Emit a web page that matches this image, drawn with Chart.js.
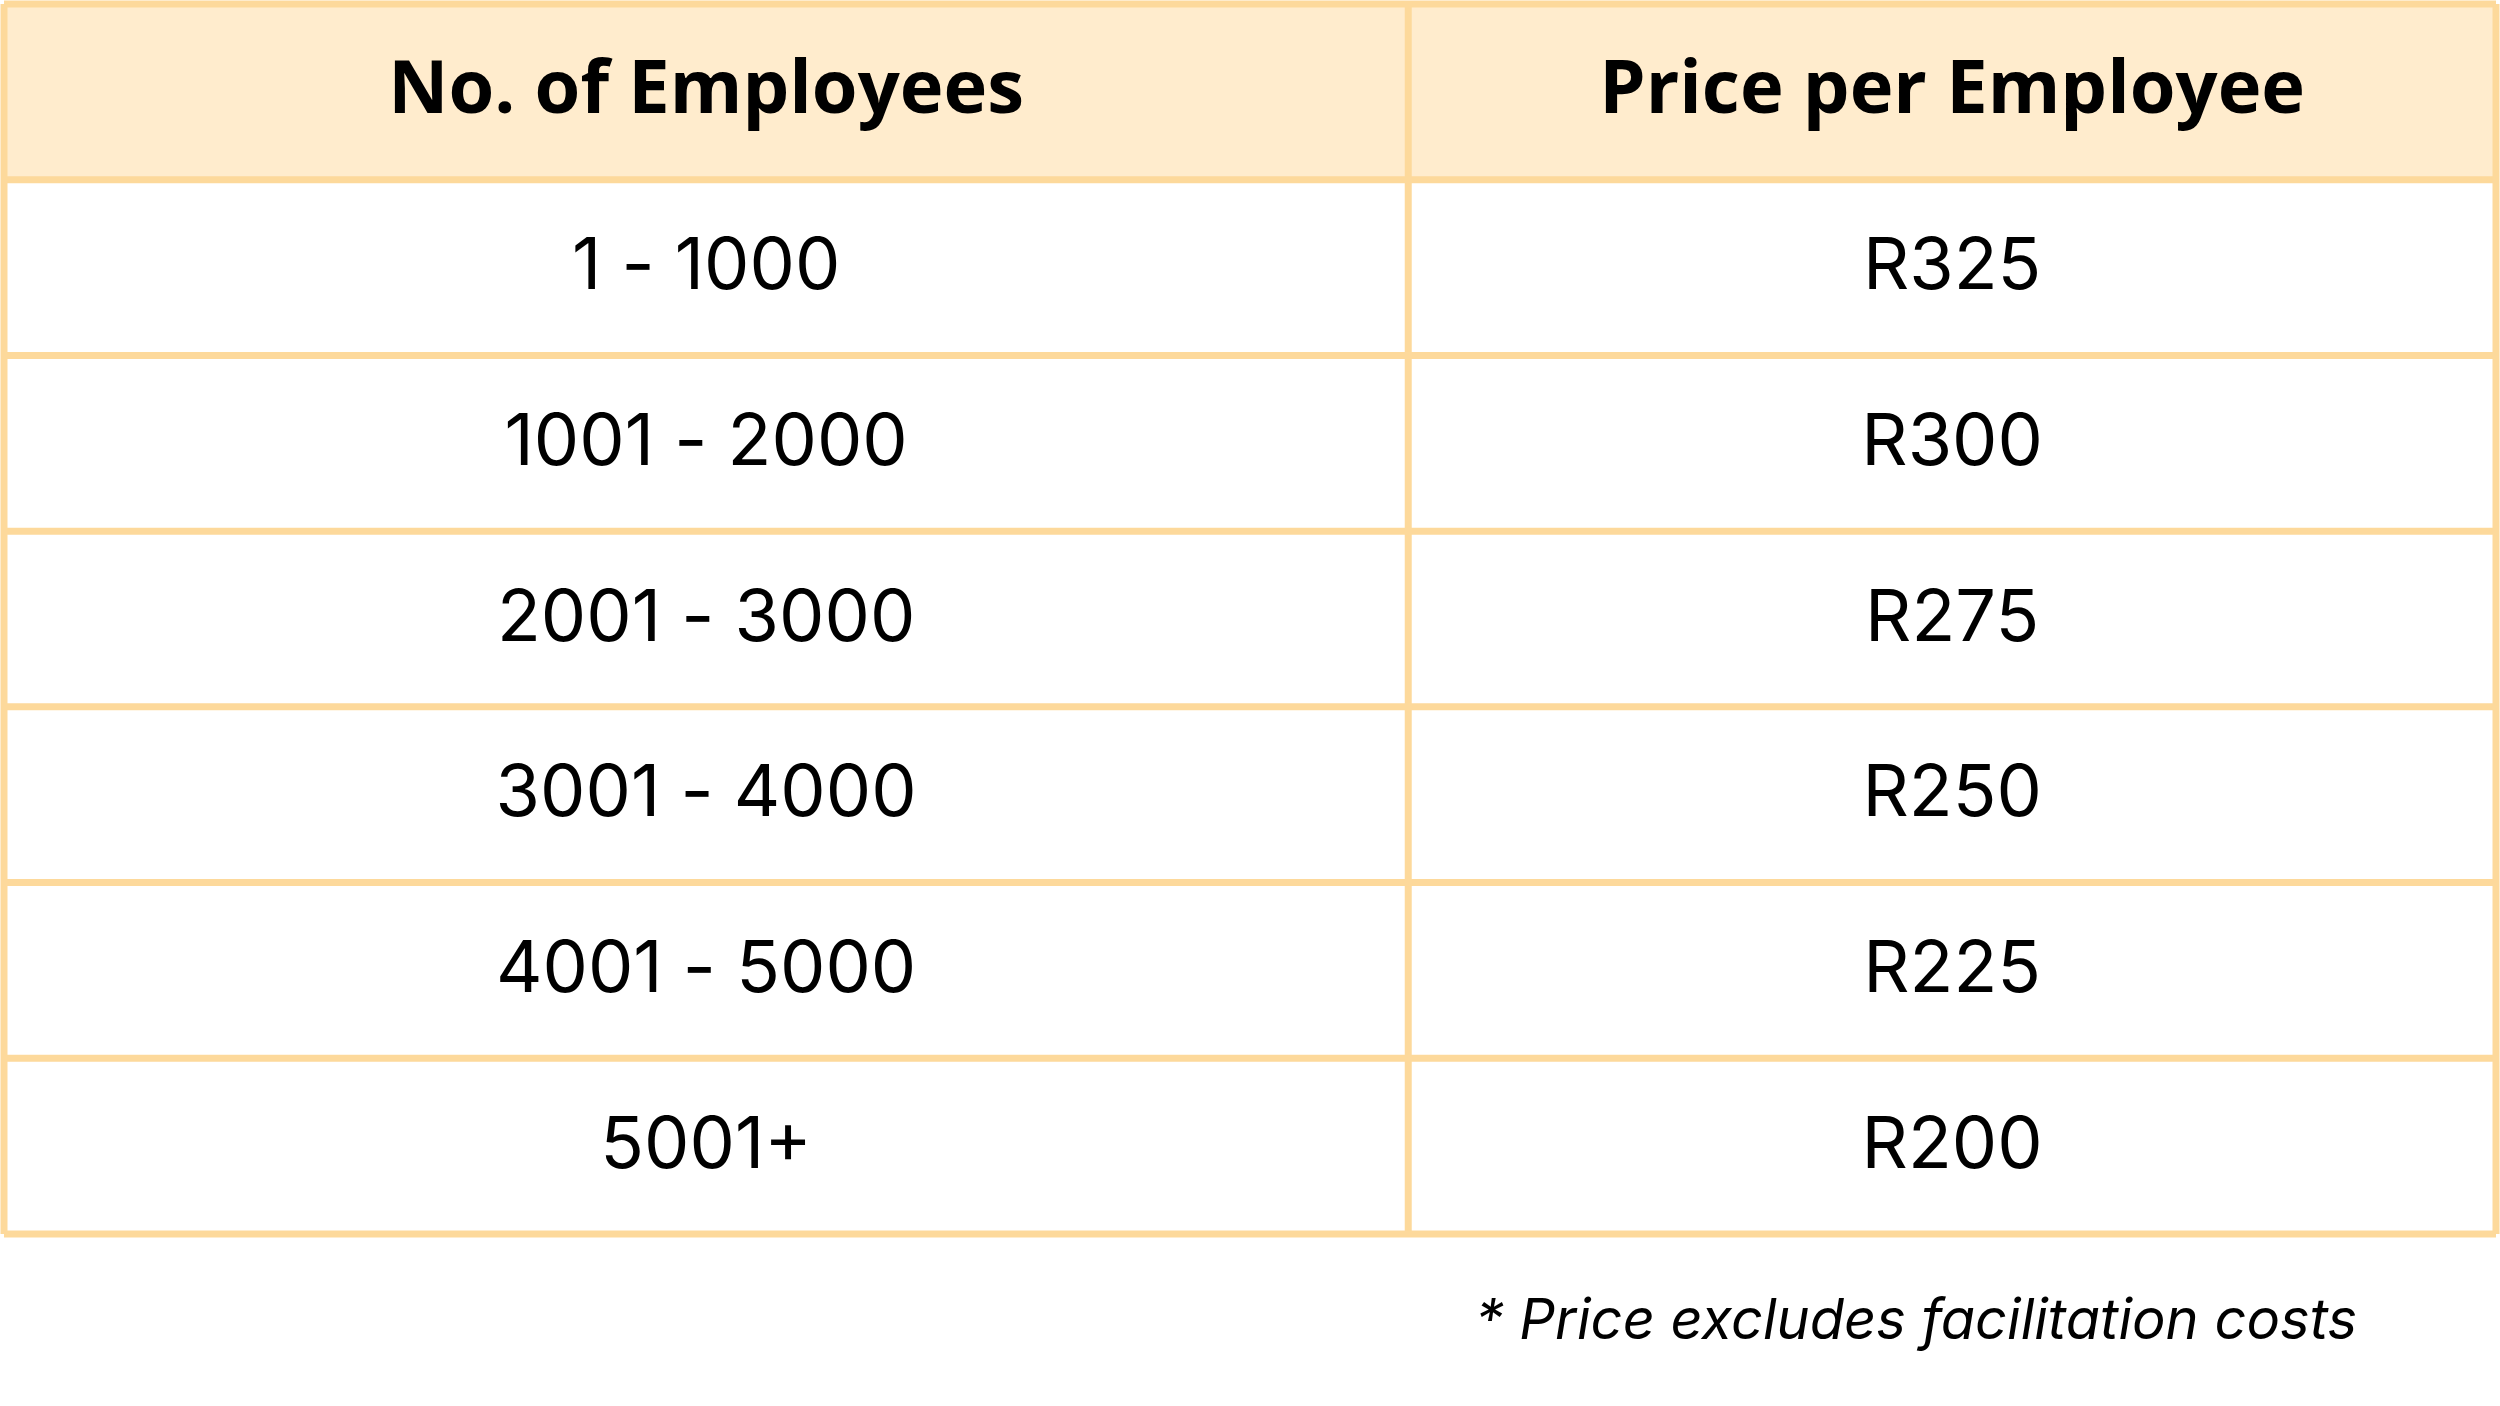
<!DOCTYPE html>
<html>
<head>
<meta charset="utf-8">
<script src="https://cdn.jsdelivr.net/npm/chart.js@4.4.1/dist/chart.umd.min.js"></script>
<style>
  html, body { margin: 0; padding: 0; background: #fff; }
  #wrap { width: 2500px; height: 1406px; }
</style>
</head>
<body>
<div id="wrap"><canvas id="tableChart"></canvas></div>
<script>
// Table content
const headers = ['No. of Employees', 'Price per Employee'];
const employeeRanges = ['1 - 1000', '1001 - 2000', '2001 - 3000', '3001 - 4000', '4001 - 5000', '5001+'];
const prices = [325, 300, 275, 250, 225, 200];
const footnote = '* Price excludes facilitation costs';

const borderColor = '#FDD99B';
const headerFill = '#FFECCD';

// Rows include the header band so the category scale lays out every row
const rowLabels = ['header', ...employeeRanges];

const tablePlugin = {
    id: 'tablePlugin',
    afterDraw(chart) {
        const ctx = chart.ctx;
        const y = chart.scales.y;
        const area = chart.chartArea;
        const n = rowLabels.length;
        const band = (y.bottom - y.top) / n;
        const left = area.left, right = area.right;
        const colX = left + (right - left) * 0.5635;

        ctx.save();
        // header fill
        const hc = y.getPixelForValue(0);
        ctx.fillStyle = headerFill;
        ctx.fillRect(left, hc - band / 2, right - left, band);

        // grid lines
        ctx.strokeStyle = borderColor;
        ctx.lineWidth = 7;
        for (let i = 0; i <= n; i++) {
            const yy = y.top + i * band;
            ctx.beginPath();
            ctx.moveTo(left, yy);
            ctx.lineTo(right, yy);
            ctx.stroke();
        }
        [left, colX, right].forEach((xx) => {
            ctx.beginPath();
            ctx.moveTo(xx, y.top);
            ctx.lineTo(xx, y.bottom);
            ctx.stroke();
        });

        const c1 = (left + colX) / 2;
        const c2 = (colX + right) / 2;
        ctx.textAlign = 'center';
        ctx.textBaseline = 'middle';
        ctx.fillStyle = '#000';

        ctx.font = 'bold 74px "Open Sans", sans-serif';
        ctx.fillText(headers[0], c1, hc);
        ctx.fillText(headers[1], c2, hc);

        ctx.font = '72px Inter, sans-serif';
        employeeRanges.forEach((r, i) => {
            const cy = y.getPixelForValue(i + 1);
            ctx.fillText(r, c1, cy);
            ctx.fillText('R' + prices[i], c2, cy);
        });

        ctx.font = 'italic 56px Inter, sans-serif';
        ctx.textAlign = 'right';
        ctx.fillText(footnote, 2357, 1322);
        ctx.restore();
    }
};

new Chart(document.getElementById('tableChart'), {
    type: 'bar',
    data: {
        labels: rowLabels,
        datasets: [{ data: [0, ...prices], backgroundColor: 'rgba(0,0,0,0)' }]
    },
    options: {
        indexAxis: 'y',
        responsive: true,
        maintainAspectRatio: false,
        animation: false,
        layout: { padding: { left: 4, right: 4, top: 4, bottom: 172 } },
        plugins: { legend: { display: false }, tooltip: { enabled: false } },
        scales: {
            x: { display: false, min: 0, max: 400 },
            y: { display: false, offset: true, grid: { display: false } }
        }
    },
    plugins: [tablePlugin]
});
</script>
</body>
</html>
